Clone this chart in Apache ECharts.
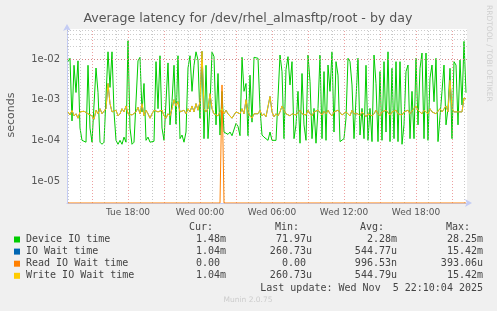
<!DOCTYPE html>
<html><head><meta charset="utf-8">
<script src="https://cdn.jsdelivr.net/npm/echarts@6/dist/echarts.min.js"></script>
<style>html,body{margin:0;padding:0;background:#f0f0f0;}#c{width:497px;height:311px;}</style>
</head><body><div id="c"></div>
<script>
// time in minutes since Tue 00:00; samples every 10 minutes from Tue 13:00
const startMin = 780;
const stepMin = 10;
const deviceIoTime = [
8.6e-3,1.04e-2,3e-4,7e-3,1.5e-3,9e-3,2e-4,1.0e-4,9e-5,9e-5,
7e-3,2e-4,9e-5,8.5e-5,6e-3,1.5e-3,9e-5,8e-5,9e-5,1e-4,
1.5e-2,2e-3,1.5e-2,5e-4,1e-4,8e-5,1e-4,8e-5,1.2e-4,9e-5,
2.8e-2,2e-4,8e-5,9e-5,8.5e-5,9e-3,1.1e-2,5e-4,2.5e-3,1e-4,
1.2e-4,9e-5,9e-5,9.5e-5,8.6e-3,6e-4,1.2e-2,2e-4,1e-4,9e-5,
8e-3,2.4e-4,9e-4,7e-3,2.5e-4,1.2e-2,1.1e-4,1.35e-4,9e-5,1.6e-4,
6e-3,1.2e-2,1.6e-3,7e-3,1.5e-2,9.4e-3,3.5e-4,1.5e-2,1.1e-4,7e-3,
1.1e-4,7.4e-4,1.5e-2,1.14e-2,2.4e-4,4.4e-3,1.35e-4,1.6e-3,1.6e-4,1.5e-4,
1.4e-4,1.6e-4,1.3e-4,1.4e-4,2.6e-4,2.2e-4,1.3e-4,1.1e-2,1.6e-3,2.5e-3,
1.3e-4,4e-3,2.8e-4,1.1e-2,1.04e-2,1.04e-2,6e-4,1.35e-4,1.2e-4,1.1e-4,
1.0e-4,1.6e-4,1.0e-4,9.5e-5,1.0e-4,9e-5,1.25e-2,4.9e-3,1.1e-4,5.5e-3,
1.14e-2,2.3e-3,8.6e-3,1.1e-4,2.4e-4,1.6e-3,8.5e-5,4.4e-3,2.4e-4,1e-4,
1.25e-2,2.8e-3,1.1e-4,6.1e-4,8.5e-5,6.1e-4,1.25e-2,1.1e-4,4.9e-3,1.0e-4,
7.1e-3,1.6e-3,1.5e-2,1.6e-4,8.6e-3,4e-3,9.3e-5,8.5e-5,1.1e-4,3.5e-4,
1.04e-2,8.6e-3,2.3e-3,1.1e-4,1.0e-4,1.04e-2,1.35e-4,6.1e-4,1.1e-4,7e-3,
1.0e-4,6.1e-4,9.3e-5,1.25e-2,2.5e-3,9.3e-5,4.9e-3,1.0e-4,8.6e-3,1.6e-4,
1.5e-2,9.3e-5,5.9e-3,1.1e-4,8.6e-3,9.3e-5,8.6e-3,8e-5,2.4e-4,4.9e-3,
7.1e-3,1.1e-4,1.6e-3,1.1e-4,1.04e-2,2.4e-4,5.9e-3,1.4e-2,1.1e-4,1.4e-2,
1e-4,3.4e-3,7.1e-3,8.9e-4,1.04e-2,9.3e-5,1.0e-4,1.6e-3,7.1e-3,2.4e-4,
6.1e-4,5.9e-3,1.1e-4,8.6e-3,7.1e-3,2.4e-4,9.4e-3,7.4e-4,2.7e-2,1.48e-3
];
const writeIoWait = [
5e-4,4.2e-4,5.5e-4,4e-4,4.5e-4,3.5e-4,5e-4,4.5e-4,5.2e-4,4.8e-4,
4.5e-4,5e-4,4e-4,3.3e-4,5.5e-4,4.5e-4,6e-4,4.5e-4,5e-4,6e-4,
2.5e-3,8e-4,5e-4,4.5e-4,5.5e-4,4e-4,4.5e-4,6e-4,5e-4,7e-4,
4.5e-4,5e-4,4.2e-4,3.8e-4,5e-4,6.5e-4,4.5e-4,8e-4,4e-4,5.5e-4,
4.5e-4,3.5e-4,4.5e-4,5.5e-4,6e-4,5e-4,4.5e-4,5.5e-4,4e-4,3.5e-4,
4.5e-4,4e-4,6e-4,1e-3,7e-4,9e-4,5e-4,4.5e-4,5.5e-4,4.5e-4,
6e-4,5e-4,7e-4,5e-4,8e-4,5.5e-4,9e-4,1.54e-2,6e-4,5e-4,
6e-4,1.4e-3,6e-4,4.5e-4,5e-4,4e-4,5e-4,6e-4,4.5e-4,5.5e-4,
4.5e-4,5e-4,3.5e-4,4.2e-4,5e-4,5.5e-4,4.5e-4,6e-4,4.5e-4,1e-3,
5e-4,4e-4,3.5e-4,4.5e-4,5e-4,4.5e-4,5.5e-4,4e-4,4.5e-4,3.8e-4,
4.2e-4,1.2e-3,5e-4,3.8e-4,4.5e-4,4e-4,5e-4,7e-4,5.5e-4,4.5e-4,
5e-4,4e-4,4.5e-4,5e-4,4.2e-4,4.8e-4,5.5e-4,4.5e-4,5e-4,4.2e-4,
5.5e-4,4.5e-4,4e-4,5e-4,4.5e-4,5.5e-4,4.8e-4,4.2e-4,5.2e-4,4.5e-4,
5.5e-4,4.5e-4,4e-4,5e-4,4.5e-4,5.5e-4,5e-4,4.2e-4,4.5e-4,5e-4,
4.5e-4,4e-4,5.5e-4,4.5e-4,5e-4,4.5e-4,4e-4,5e-4,4.5e-4,3.8e-4,
4.5e-4,5e-4,4e-4,4.5e-4,5.5e-4,4.5e-4,4e-4,5e-4,4.5e-4,5.5e-4,
4.8e-4,4.2e-4,5e-4,4.5e-4,5.5e-4,4.5e-4,5e-4,4.2e-4,5e-4,4.5e-4,
5.5e-4,4.5e-4,5e-4,6e-4,7e-4,5.5e-4,5e-4,4.5e-4,5.5e-4,5e-4,
4.5e-4,6e-4,5e-4,5.5e-4,4.5e-4,5e-4,6e-4,5e-4,5.5e-4,7e-4,
5e-4,3e-3,6e-4,5e-4,4.5e-4,5e-4,4.5e-4,5e-4,1.1e-3,1.04e-3
];
// IO Wait time is identical to Write IO Wait time in the source (hidden under it)
const ioWaitTime = writeIoWait;
const readIoWait = [
0,0,0,0,0,0,0,0,0,0, 0,0,0,0,0,0,0,0,0,0, 0,0,0,0,0,0,0,0,0,0, 0,0,0,0,0,0,0,0,0,0,
0,0,0,0,0,0,0,0,0,0, 0,0,0,0,0,0,0,0,0,0, 0,0,0,0,0,0,0,0,0,0, 0,0,0,0,0,0,0,2.3e-3,0,0,
0,0,0,0,0,0,0,0,0,0, 0,0,0,0,0,0,0,0,0,0, 0,0,0,0,0,0,0,0,0,0, 0,0,0,0,0,0,0,0,0,0,
0,0,0,0,0,0,0,0,0,0, 0,0,0,0,0,0,0,0,0,0, 0,0,0,0,0,0,0,0,0,0, 0,0,0,0,0,0,0,0,0,0,
0,0,0,0,0,0,0,0,0,0, 0,0,0,0,0,0,0,0,0,0, 0,0,0,0,0,0,0,0,0,0, 0,0,0,0,0,0,0,0,0,0
];
const xMin = 775, xMax = 2775;           // Tue 12:55 .. Wed 22:15
const yMin = 2.88e-6, yMax = 0.0546;
const xTickValues = [1080, 1440, 1800, 2160, 2520];
const xTickLabels = ['Tue 18:00', 'Wed 00:00', 'Wed 06:00', 'Wed 12:00', 'Wed 18:00'];
const yTickValues = [1e-5, 1e-4, 1e-3, 1e-2];
const yTickLabels = ['1e-05', '1e-04', '1e-03', '1e-02'];
const seriesNames = ['Device IO time', 'IO Wait time', 'Read IO Wait time', 'Write IO Wait time'];
const seriesColors = ['#00cc00', '#0066b3', '#ff8000', '#ffcc00'];
const legendCur = ['1.48m', '1.04m', '0.00 ', '1.04m'];
const legendMin = ['71.97u', '260.73u', '0.00 ', '260.73u'];
const legendAvg = ['2.28m', '544.77u', '996.53n', '544.79u'];
const legendMax = ['28.25m', '15.42m', '393.06u', '15.42m'];
const titleText = 'Average latency for /dev/rhel_almasftp/root - by day';
const lastUpdate = 'Last update: Wed Nov  5 22:10:04 2025';

const toPairs = arr => arr.map((v, i) => [startMin + i * stepMin, v]);
const clipLow = arr => arr.map((v, i) => [startMin + i * stepMin, v > 0 ? v : yMin]);

// grid lines
const gridData = [];
for (let t = 780; t <= 2760; t += 60) {
  const major = t % 180 === 0;
  gridData.push({ xAxis: t, lineStyle: { color: major ? 'rgba(230,120,120,0.7)' : 'rgba(170,170,170,0.65)', type: [1, 2], width: 1 } });
}
for (let d = -6; d <= -2; d++) {
  for (let m = 1; m <= 9; m++) {
    const v = m * Math.pow(10, d);
    if (v < yMin || v > yMax) continue;
    gridData.push({ yAxis: v, lineStyle: { color: m === 1 ? 'rgba(230,120,120,0.7)' : 'rgba(170,170,170,0.6)', type: [1, 2], width: 1 } });
  }
}

const chart = echarts.init(document.getElementById('c'), null, { renderer: 'canvas' });
const mono = '10px "DejaVu Sans Mono"';
const graphics = [
  { type: 'text', x: 248, y: 19, style: { text: titleText, fill: '#555', font: '12.6px "DejaVu Sans"', align: 'center', verticalAlign: 'middle' } },
  { type: 'text', x: 485, y: 5, rotation: -Math.PI / 2, style: { text: 'RRDTOOL / TOBI OETIKER', fill: '#cfcfcf', font: '7.5px "DejaVu Sans"', align: 'left', verticalAlign: 'bottom' } },
  { type: 'text', x: 11, y: 115, rotation: Math.PI / 2, style: { text: 'seconds', fill: '#555', font: '11px "DejaVu Sans"', align: 'center', verticalAlign: 'middle' } },
  { type: 'text', x: 213, y: 227, style: { text: 'Cur:', fill: '#444', font: mono, align: 'right', verticalAlign: 'middle' } },
  { type: 'text', x: 299, y: 227, style: { text: 'Min:', fill: '#444', font: mono, align: 'right', verticalAlign: 'middle' } },
  { type: 'text', x: 384, y: 227, style: { text: 'Avg:', fill: '#444', font: mono, align: 'right', verticalAlign: 'middle' } },
  { type: 'text', x: 470, y: 227, style: { text: 'Max:', fill: '#444', font: mono, align: 'right', verticalAlign: 'middle' } },
  { type: 'text', x: 483, y: 288, style: { text: lastUpdate, fill: '#444', font: mono, align: 'right', verticalAlign: 'middle' } },
  { type: 'text', x: 248, y: 300, style: { text: 'Munin 2.0.75', fill: '#cccccc', font: '7.5px "DejaVu Sans"', align: 'center', verticalAlign: 'middle' } }
];
seriesNames.forEach((n, k) => {
  const y = 239.5 + k * 12.1;
  graphics.push({ type: 'rect', shape: { x: 14, y: y - 3, width: 6, height: 6 }, style: { fill: seriesColors[k] } });
  graphics.push({ type: 'text', x: 26, y: y, style: { text: n, fill: '#444', font: mono, align: 'left', verticalAlign: 'middle' } });
  graphics.push({ type: 'text', x: 226, y: y, style: { text: legendCur[k], fill: '#444', font: mono, align: 'right', verticalAlign: 'middle' } });
  graphics.push({ type: 'text', x: 312, y: y, style: { text: legendMin[k], fill: '#444', font: mono, align: 'right', verticalAlign: 'middle' } });
  graphics.push({ type: 'text', x: 397, y: y, style: { text: legendAvg[k], fill: '#444', font: mono, align: 'right', verticalAlign: 'middle' } });
  graphics.push({ type: 'text', x: 483, y: y, style: { text: legendMax[k], fill: '#444', font: mono, align: 'right', verticalAlign: 'middle' } });
});

const lineSeries = (name, data, color, z) => ({
  name, type: 'line', data, symbol: 'none', showSymbol: false, animation: false, z,
  lineStyle: { color, width: 1 }, itemStyle: { color }, clip: true, connectNulls: false
});

chart.setOption({
  backgroundColor: '#f0f0f0',
  animation: false,
  grid: { left: 67, right: 30, top: 29, bottom: 108, show: true, backgroundColor: '#ffffff', borderWidth: 0 },
  xAxis: {
    type: 'value', min: xMin, max: xMax,
    axisLine: { show: true, lineStyle: { color: '#c4ccf4', width: 1 }, symbol: ['none', 'arrow'], symbolSize: [6, 7], symbolOffset: [0, 5] },
    axisTick: { show: false },
    splitLine: { show: false },
    axisLabel: {
      customValues: xTickValues, color: '#555', fontFamily: 'DejaVu Sans', fontSize: 9, margin: 5,
      formatter: v => xTickLabels[xTickValues.indexOf(v)] || ''
    }
  },
  yAxis: {
    type: 'log', logBase: 10, min: yMin, max: yMax,
    axisLine: { show: true, lineStyle: { color: '#c4ccf4', width: 1 }, symbol: ['none', 'arrow'], symbolSize: [6, 7], symbolOffset: [0, 5] },
    axisTick: { show: false },
    splitLine: { show: false },
    axisLabel: {
      customValues: yTickValues, color: '#555', fontFamily: 'DejaVu Sans', fontSize: 10, margin: 7,
      formatter: v => { const i = yTickValues.findIndex(t => Math.abs(Math.log10(t) - Math.log10(v)) < 1e-6); return i >= 0 ? yTickLabels[i] : ''; }
    }
  },
  series: [
    { type: 'line', data: [], z: 1, silent: true, markLine: { silent: true, symbol: 'none', label: { show: false }, animation: false, data: gridData } },
    lineSeries(seriesNames[0], toPairs(deviceIoTime), seriesColors[0], 3),
    lineSeries(seriesNames[1], toPairs(ioWaitTime), seriesColors[1], 4),
    lineSeries(seriesNames[2], clipLow(readIoWait), seriesColors[2], 5),
    lineSeries(seriesNames[3], toPairs(writeIoWait), seriesColors[3], 6)
  ],
  graphic: graphics
});
</script></body></html>
